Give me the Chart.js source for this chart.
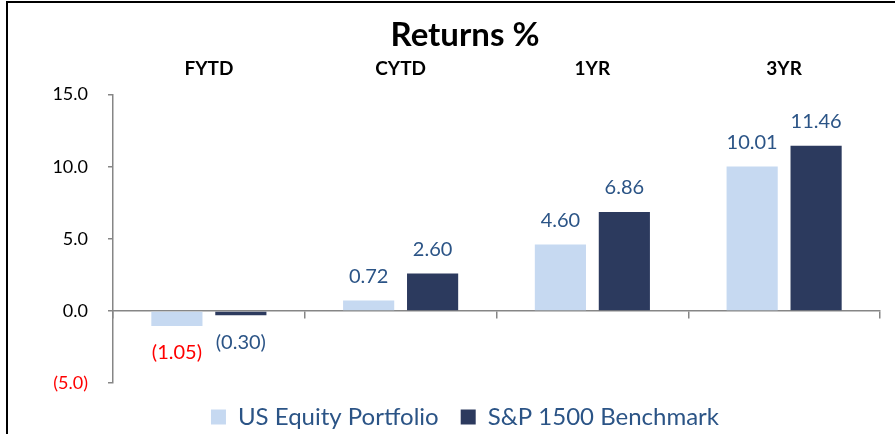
<!DOCTYPE html>
<html>
<head>
<meta charset="utf-8">
<title>Returns %</title>
<script src="https://cdn.jsdelivr.net/npm/chart.js@4/dist/chart.umd.min.js"></script>
<style>
  html, body { margin: 0; padding: 0; background: #fff; overflow: hidden; }
  #wrap { position: relative; width: 895px; height: 434px; }
  #frame {
    position: absolute; left: 6px; top: 1px; width: 920px; height: 460px;
    border-left: 2px solid #000; border-top: 2px solid #000; pointer-events: none;
  }
</style>
</head>
<body>
<div id="wrap">
  <canvas id="chart" width="895" height="434"></canvas>
  <div id="frame"></div>
</div>
<script>
// chart data
const categories = ["FYTD", "CYTD", "1YR", "3YR"];
const portfolioReturns = [-1.05, 0.72, 4.60, 10.01];
const benchmarkReturns = [-0.30, 2.60, 6.86, 11.46];
const seriesNames = ["US Equity Portfolio", "S&P 1500 Benchmark"];
const yTicks = [-5, 0, 5, 10, 15];

const FONT = "Lato, 'Open Sans', sans-serif";
const LABEL_BLUE = "#2B5486";
const AXIS_GRAY = "#868686";

const fmt = (v, digits) => v < 0 ? "(" + Math.abs(v).toFixed(digits) + ")" : v.toFixed(digits);

// value labels above / below each bar
const valueLabels = {
  id: "valueLabels",
  afterDatasetsDraw(chart) {
    const ctx = chart.ctx;
    ctx.save();
    ctx.font = "20px " + FONT;
    ctx.textAlign = "center";
    ctx.textBaseline = "middle";
    chart.data.datasets.forEach((ds, di) => {
      const meta = chart.getDatasetMeta(di);
      meta.data.forEach((bar, i) => {
        const v = ds.data[i];
        ctx.fillStyle = (v < 0 && di === 0) ? "#FF0000" : LABEL_BLUE;
        const y = v < 0 ? bar.y + 27 : bar.y - 24;
        ctx.fillText(fmt(v, 2), bar.x, y);
      });
    });
    ctx.restore();
  }
};

new Chart(document.getElementById("chart"), {
  type: "bar",
  data: {
    labels: categories,
    datasets: [
      {
        label: seriesNames[0],
        data: portfolioReturns,
        backgroundColor: "#C6D9F1",
        barPercentage: 0.8,
        categoryPercentage: 0.667
      },
      {
        label: seriesNames[1],
        data: benchmarkReturns,
        backgroundColor: "#2C3A5E",
        barPercentage: 0.8,
        categoryPercentage: 0.667
      }
    ]
  },
  options: {
    responsive: false,
    animation: false,
    layout: { padding: { left: 50, right: 15, top: 0, bottom: -5 } },
    plugins: {
      tooltip: { enabled: false },
      title: {
        display: true,
        text: "Returns %",
        color: "#000",
        font: { family: FONT, size: 33, weight: "bold" },
        padding: { top: 16, bottom: 0 }
      },
      legend: {
        position: "bottom",
        labels: {
          color: LABEL_BLUE,
          font: { family: FONT, size: 24 },
          boxWidth: 15,
          boxHeight: 15,
          padding: 22
        }
      }
    },
    scales: {
      x: {
        position: "top",
        offset: true,
        grid: { display: false },
        border: { display: false },
        ticks: {
          color: "#000",
          font: { family: FONT, size: 19, weight: "bold" },
          padding: 6
        },
        afterFit(scale) { scale.height = 39; }
      },
      x2: {
        type: "category",
        labels: categories,
        position: { y: 0 },
        offset: true,
        ticks: { display: false },
        grid: {
          offset: true,
          drawOnChartArea: false,
          drawTicks: true,
          tickLength: 7,
          color: AXIS_GRAY,
          lineWidth: 1.5
        },
        border: { display: true, color: AXIS_GRAY, width: 1.5 }
      },
      y: {
        min: yTicks[0],
        max: yTicks[yTicks.length - 1],
        afterBuildTicks(scale) { scale.ticks = yTicks.map(v => ({ value: v })); },
        grid: {
          drawOnChartArea: false,
          drawTicks: true,
          tickLength: 5,
          color: AXIS_GRAY,
          lineWidth: 1.5
        },
        border: { display: true, color: AXIS_GRAY, width: 1.5 },
        ticks: {
          padding: 20,
          font: { family: FONT, size: 18 },
          color: ctx => ctx.tick && ctx.tick.value < 0 ? "#FF0000" : "#000",
          callback: v => fmt(v, 1)
        },
        afterFit(scale) { scale.width = 63; }
      }
    }
  },
  plugins: [valueLabels]
});
</script>
</body>
</html>
